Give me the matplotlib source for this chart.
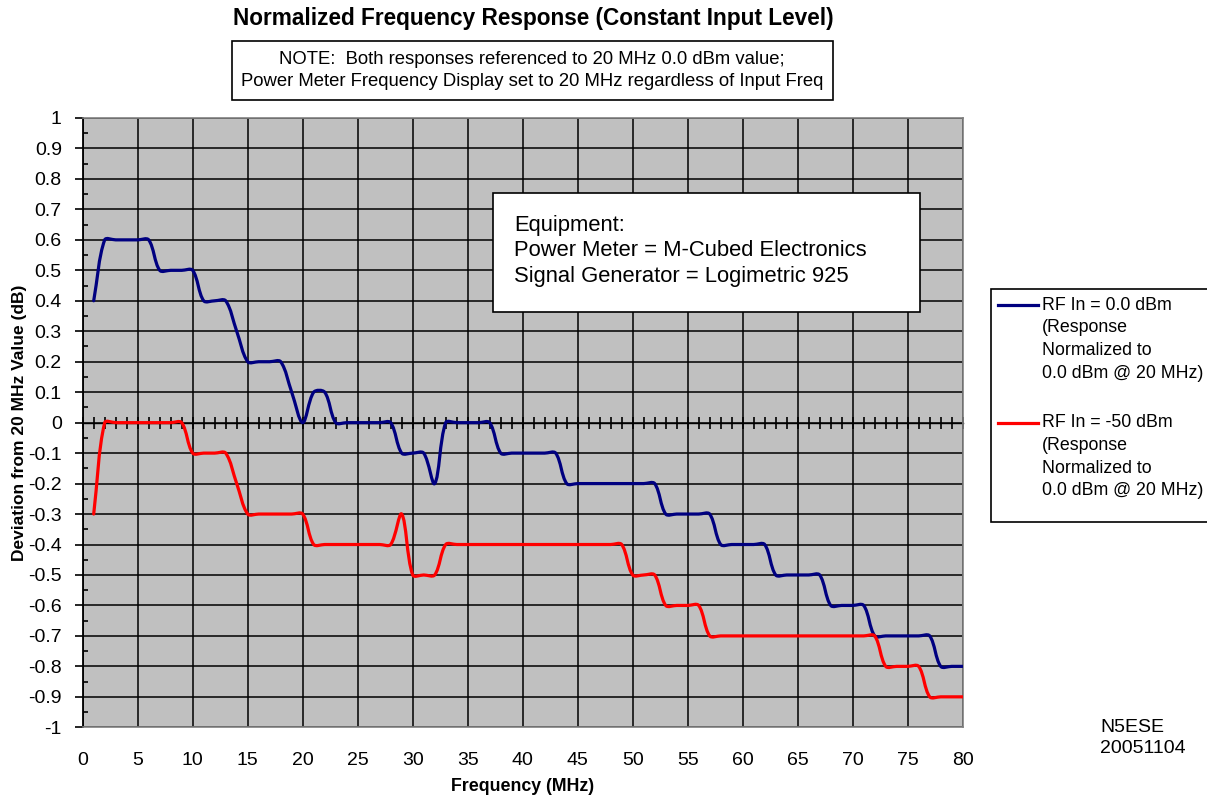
#!/usr/bin/env python3
"""Normalized frequency response of the power meter, two input levels."""

import math

import matplotlib

matplotlib.use("Agg")
import matplotlib.pyplot as plt
from matplotlib.lines import Line2D
from matplotlib.patches import PathPatch, Rectangle
from matplotlib.path import Path

FREQ_MHZ = list(range(1, 81))

RF_0DBM = [
    0.4, 0.6, 0.6, 0.6, 0.6, 0.6, 0.5, 0.5, 0.5, 0.5,
    0.4, 0.4, 0.4, 0.3, 0.2, 0.2, 0.2, 0.2, 0.1, 0.0,
    0.1, 0.1, 0.0, 0.0, 0.0, 0.0, 0.0, 0.0, -0.1, -0.1,
    -0.1, -0.2, 0.0, 0.0, 0.0, 0.0, 0.0, -0.1, -0.1, -0.1,
    -0.1, -0.1, -0.1, -0.2, -0.2, -0.2, -0.2, -0.2, -0.2, -0.2,
    -0.2, -0.2, -0.3, -0.3, -0.3, -0.3, -0.3, -0.4, -0.4, -0.4,
    -0.4, -0.4, -0.5, -0.5, -0.5, -0.5, -0.5, -0.6, -0.6, -0.6,
    -0.6, -0.7, -0.7, -0.7, -0.7, -0.7, -0.7, -0.8, -0.8, -0.8,
]

RF_MINUS50DBM = [
    -0.3, 0.0, 0.0, 0.0, 0.0, 0.0, 0.0, 0.0, 0.0, -0.1,
    -0.1, -0.1, -0.1, -0.2, -0.3, -0.3, -0.3, -0.3, -0.3, -0.3,
    -0.4, -0.4, -0.4, -0.4, -0.4, -0.4, -0.4, -0.4, -0.3, -0.5,
    -0.5, -0.5, -0.4, -0.4, -0.4, -0.4, -0.4, -0.4, -0.4, -0.4,
    -0.4, -0.4, -0.4, -0.4, -0.4, -0.4, -0.4, -0.4, -0.4, -0.5,
    -0.5, -0.5, -0.6, -0.6, -0.6, -0.6, -0.7, -0.7, -0.7, -0.7,
    -0.7, -0.7, -0.7, -0.7, -0.7, -0.7, -0.7, -0.7, -0.7, -0.7,
    -0.7, -0.7, -0.8, -0.8, -0.8, -0.8, -0.9, -0.9, -0.9, -0.9,
]

SERIES_LABELS = [
    ["RF In = 0.0 dBm", "(Response", "Normalized to", "0.0 dBm @ 20 MHz)"],
    ["RF In = -50 dBm", "(Response", "Normalized to", "0.0 dBm @ 20 MHz)"],
]
SERIES_COLORS = ["#000080", "#ff0000"]

X_TICKS = list(range(0, 81, 5))
Y_TICKS = [round(-1 + 0.1 * i, 1) for i in range(21)]

TITLE = "Normalized Frequency Response (Constant Input Level)"
NOTE_LINES = ["NOTE:  Both responses referenced to 20 MHz 0.0 dBm value;",
              "Power Meter Frequency Display set to 20 MHz regardless of Input Freq"]
EQUIPMENT = ("Equipment:\nPower Meter = M-Cubed Electronics\n"
             "Signal Generator = Logimetric 925")
SIGNATURE = "N5ESE\n20051104"

W, H = 1207, 796
PX_PER_MHZ = 11.0
PX_PER_DB = 304.65


def smooth_path(xs, ys, tension=1.0 / 3.0):
    """Excel-like smoothed line: cubic Bezier through every point, with the
    handle lengths weighted by the on-screen segment lengths."""
    pts = [(x * PX_PER_MHZ, y * PX_PER_DB) for x, y in zip(xs, ys)]
    n = len(pts)
    handles = []
    for i in range(n):
        p0 = pts[max(i - 1, 0)]
        p1 = pts[i]
        p2 = pts[min(i + 1, n - 1)]
        d01 = math.dist(p0, p1)
        d12 = math.dist(p1, p2)
        tot = d01 + d12 or 1.0
        dx, dy = p2[0] - p0[0], p2[1] - p0[1]
        fa = tension * d01 / tot
        fb = tension * d12 / tot
        handles.append(((p1[0] - fa * dx, p1[1] - fa * dy),
                        (p1[0] + fb * dx, p1[1] + fb * dy)))
    verts = [pts[0]]
    codes = [Path.MOVETO]
    for i in range(n - 1):
        verts += [handles[i][1], handles[i + 1][0], pts[i + 1]]
        codes += [Path.CURVE4] * 3
    verts = [(x / PX_PER_MHZ, y / PX_PER_DB) for x, y in verts]
    return Path(verts, codes)


def fx(px):
    return px / W


def fy(py):
    return 1 - py / H


plt.rcParams.update({
    "font.family": ["Liberation Sans", "DejaVu Sans"],
    "axes.linewidth": 1.0,
})

fig = plt.figure(figsize=(W / 100, H / 100), dpi=100)
ax = fig.add_axes([fx(82.7), fy(727.3), fx(962.7) - fx(82.7), fy(118) - fy(727.3)])
ax.set_facecolor("#c0c0c0")
ax.set_xlim(0, 80)
ax.set_ylim(-1, 1)

for ys, color in zip([RF_0DBM, RF_MINUS50DBM], SERIES_COLORS):
    patch = PathPatch(smooth_path(FREQ_MHZ, ys), facecolor="none", edgecolor=color,
                      linewidth=2.3, capstyle="round", joinstyle="round", zorder=4)
    ax.add_patch(patch)

ax.set_xticks(X_TICKS)
ax.set_xticklabels([str(t) for t in X_TICKS], fontsize=14)
ax.set_yticks(Y_TICKS)
ax.set_yticklabels([f"{t:g}" if t != 0 else "0" for t in Y_TICKS], fontsize=14)
ax.set_yticks([round(-0.95 + 0.1 * i, 2) for i in range(20)], minor=True)
ax.tick_params(axis="x", which="both", length=0, pad=18)
ax.tick_params(axis="y", which="major", direction="out", length=6, width=1.2, pad=9)
ax.tick_params(axis="y", which="minor", direction="in", length=3.5, width=1.2)
ax.grid(True, which="major", color="black", linewidth=1.1)
ax.set_axisbelow(True)

for side in ["top", "right", "bottom"]:
    ax.spines[side].set_color("#808080")
    ax.spines[side].set_linewidth(1.2)
ax.spines["left"].set_color("black")
ax.spines["left"].set_linewidth(1.3)

# category axis crossing at zero with a tick every MHz
zero_axis = ax.secondary_xaxis(0.5)
zero_axis.set_xticks(list(range(0, 81)))
zero_axis.tick_params(axis="x", direction="inout", length=8, width=1.2, labelbottom=False)
zero_axis.set_xticklabels([])
zero_axis.spines["bottom"].set_linewidth(1.3)

ax.set_xlabel("Frequency (MHz)", fontsize=12.8, fontweight="bold", labelpad=6)
ax.set_ylabel("Deviation from 20 MHz Value (dB)", fontsize=12.5, fontweight="bold",
              labelpad=1)

fig.text(fx(533), fy(19), TITLE, fontsize=16.3, fontweight="bold", ha="center",
         va="center")

fig.patches.append(Rectangle((fx(231.5), fy(100)), fx(832.5) - fx(231.5), fy(41) - fy(100),
                             transform=fig.transFigure, facecolor="white",
                             edgecolor="black", linewidth=1.2))
for line, y in zip(NOTE_LINES, [60, 82]):
    fig.text(fx(532), fy(y), line, fontsize=13.3, ha="center", va="center")

ax.add_patch(Rectangle(((493.3 - 82.7) / 880, (727.3 - 311.7) / 609.3),
                       (920 - 493.3) / 880, (311.7 - 193.3) / 609.3,
                       transform=ax.transAxes, facecolor="white", edgecolor="black",
                       linewidth=1.2, zorder=5))
ax.text((514.3 - 82.7) / 880, (727.3 - 251) / 609.3, EQUIPMENT, transform=ax.transAxes,
        fontsize=15.8, ha="left", va="center", linespacing=1.27, zorder=6)

# legend box drawn by hand so the marker sits on the first text line
fig.patches.append(Rectangle((fx(990.7), fy(521.7)), fx(1215) - fx(990.7),
                             fy(289.3) - fy(521.7), transform=fig.transFigure,
                             facecolor="white", edgecolor="black", linewidth=1.2))
for lines, color, top in zip(SERIES_LABELS, SERIES_COLORS, [305, 422.7]):
    fig.lines.append(Line2D([fx(997.7), fx(1038.3)], [fy(top), fy(top)],
                            transform=fig.transFigure, color=color, linewidth=2.3))
    for k, line in enumerate(lines):
        fig.text(fx(1041.7), fy(top + 22.7 * k), line, fontsize=12.8, ha="left",
                 va="center")

fig.text(fx(1100), fy(738), SIGNATURE, fontsize=14, ha="left", va="center",
         linespacing=1.25)

fig.savefig("out.png", dpi=100)
